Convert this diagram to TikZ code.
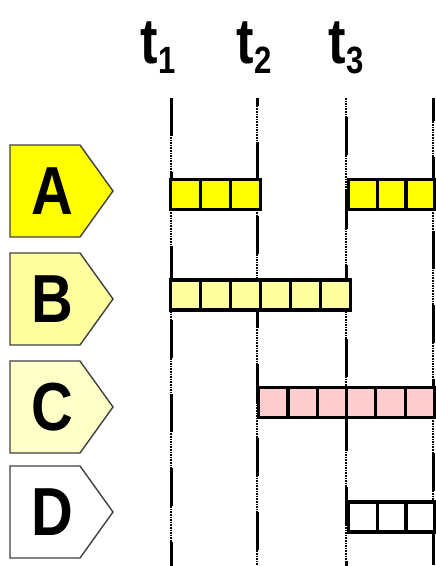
\documentclass[tikz,border=0pt]{standalone}
\usepackage{fontspec}
\setmainfont{Liberation Sans}
\begin{document}
\begin{tikzpicture}[x=1pt,y=-1pt,
  tlabel/.style={font=\bfseries\fontsize{64}{64}\selectfont, anchor=base, inner sep=0},
  letter/.style={font=\bfseries\fontsize{68}{68}\selectfont, inner sep=0},
  tag/.style={draw=black!75, line width=1.4pt, line join=miter},
  cell/.style={draw=black, line width=3.2pt, minimum width=30pt, minimum height=30pt, inner sep=0, anchor=west},
  dotline/.style={line width=2.6pt, dash pattern=on 1.6pt off 1pt},
  solidline/.style={line width=3pt},
]
\useasboundingbox (0,0) rectangle (436,566);
\definecolor{ayel}{RGB}{255,255,0}
\definecolor{byel}{RGB}{255,255,160}
\definecolor{cyel}{RGB}{255,255,200}
\definecolor{cpink}{RGB}{255,205,205}

% time labels
\node[tlabel] (t1) at (158,63) {\scalebox{0.82}[1]{t\raisebox{-0.16em}{\fontsize{38}{38}\selectfont 1}}};
\node[tlabel] (t2) at (254,63) {\scalebox{0.82}[1]{t\raisebox{-0.16em}{\fontsize{38}{38}\selectfont 2}}};
\node[tlabel] (t3) at (346,63) {\scalebox{0.82}[1]{t\raisebox{-0.16em}{\fontsize{38}{38}\selectfont 3}}};

% vertical time lines
\foreach \x/\ph in {171/0,257/30,346/55,433/15}{
  \draw[dotline] (\x,98) -- (\x,566);
  \draw[solidline, dash pattern=on 38pt off 36pt, dash phase=\ph pt] (\x,98) -- (\x,566);
}

% tags
\foreach \n/\c/\y/\col in {A/A/191/ayel, B/B/299/byel, C/C/407/cyel, D/D/512/white}{
  \draw[tag, fill=\col] (10,\y-46) -- (80,\y-46) -- (113,\y) -- (80,\y+46) -- (10,\y+46) -- cycle;
  \node[letter] (lab\n) at (52,\y) {\scalebox{0.85}[1]{\c}};
}

% bars
\foreach \i in {0,1,2}{
  \node[cell, fill=ayel] (a\i) at (169+\i*30,194.5) {};
  \node[cell, fill=ayel, minimum width=28.7pt] (aa\i) at (347+\i*28.7,194.5) {};
  \node[cell, fill=white, minimum width=28.7pt] (d\i) at (347+\i*28.7,517) {};
}
\foreach \i in {0,...,5}{
  \node[cell, fill=byel] (b\i) at (169+\i*30,295) {};
  \node[cell, fill=cpink, minimum width=29.3pt] (c\i) at (257+\i*29.3,402.5) {};
}
\end{tikzpicture}
\end{document}
